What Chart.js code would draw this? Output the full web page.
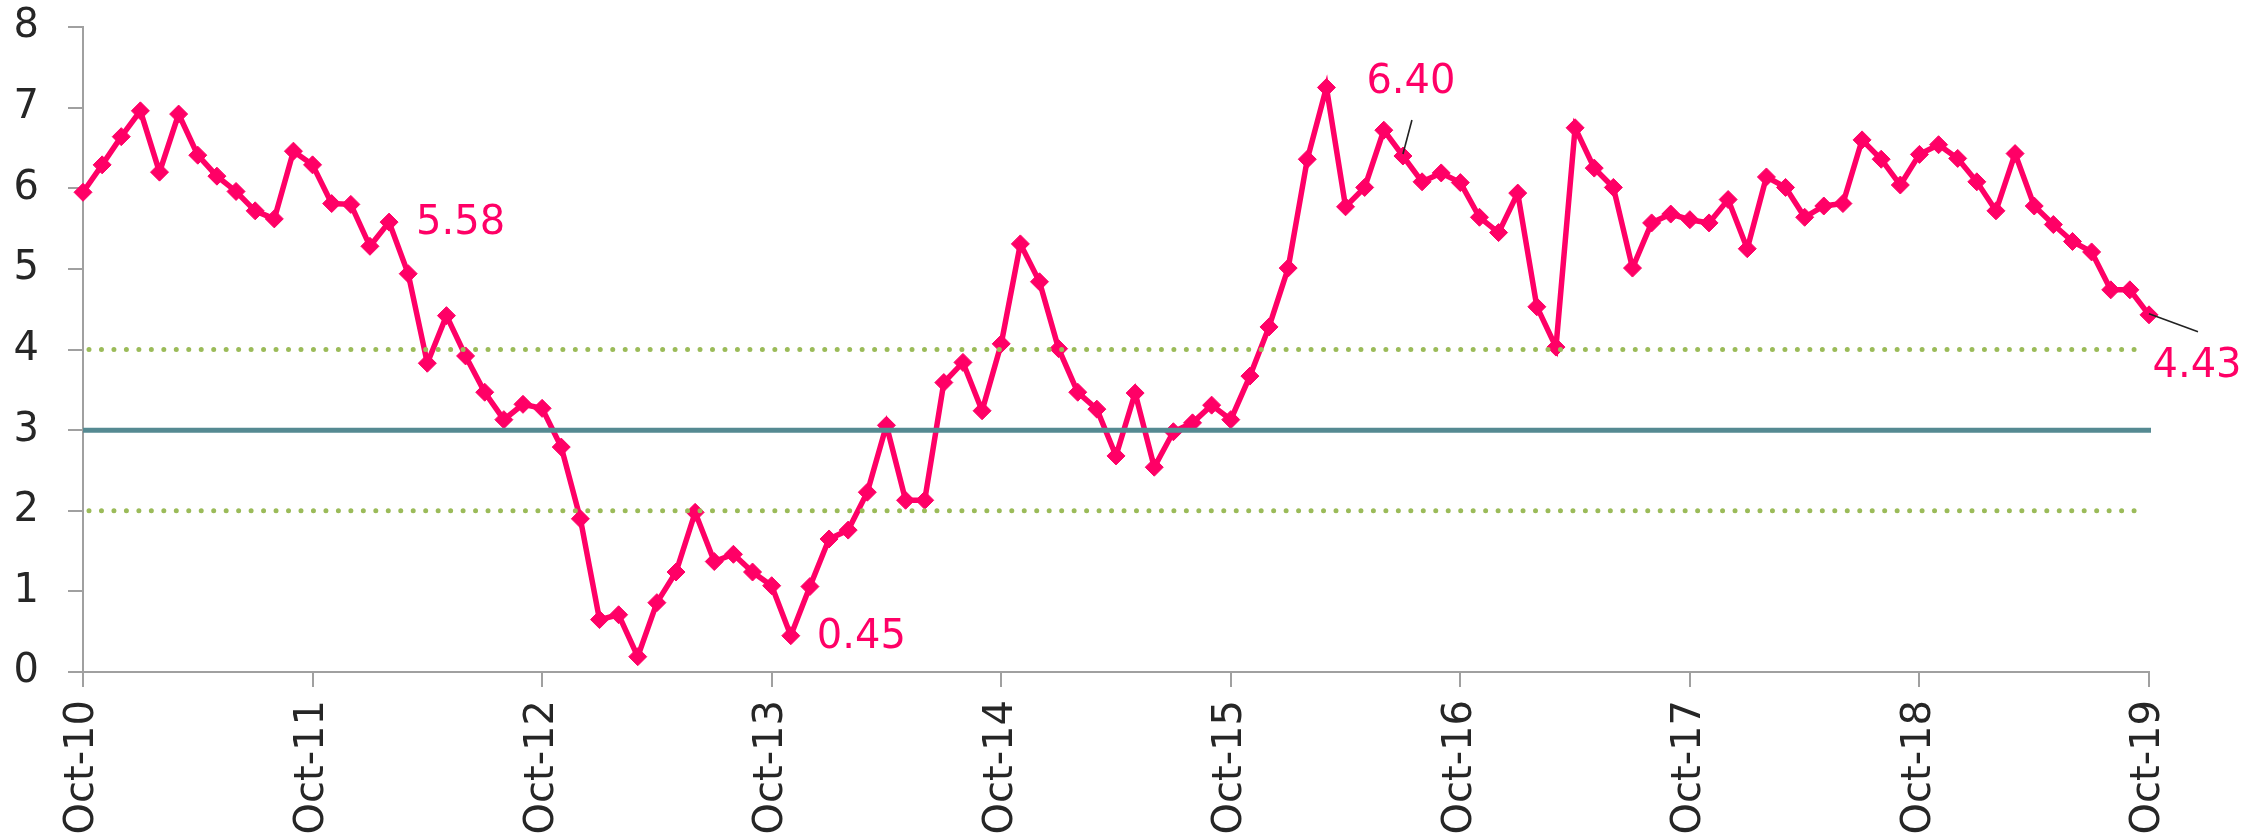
<!DOCTYPE html>
<html>
<head>
<meta charset="utf-8">
<script src="https://cdn.jsdelivr.net/npm/chart.js@4.4.0/dist/chart.umd.min.js"></script>
<style>
  html, body { margin: 0; padding: 0; background: #fff; }
  #wrap { width: 2266px; height: 835px; }
</style>
</head>
<body>
<div id="wrap"><canvas id="rate-chart"></canvas></div>
<script>
    "use strict";

    // Monthly categories, Oct-10 .. Oct-19
    var monthNames = ["Jan", "Feb", "Mar", "Apr", "May", "Jun", "Jul", "Aug", "Sep", "Oct", "Nov", "Dec"];
    var months = [];
    for (var m = 9; m <= 9 + 108; m++) {
        months.push(monthNames[m % 12] + "-" + (10 + Math.floor(m / 12)));
    }

    // Series values
    var rate = [
        5.95, 6.29, 6.64, 6.96, 6.20, 6.92, 6.41, 6.15, 5.96, 5.72, 5.62, 6.46,
        6.29, 5.81, 5.80, 5.28, 5.58, 4.94, 3.83, 4.42, 3.92, 3.47, 3.13, 3.32,
        3.27, 2.79, 1.90, 0.65, 0.71, 0.19, 0.86, 1.24, 1.98, 1.37, 1.46, 1.24,
        1.07, 0.45, 1.06, 1.65, 1.76, 2.23, 3.06, 2.13, 2.13, 3.59, 3.84, 3.24,
        4.07, 5.31, 4.84, 4.01, 3.47, 3.26, 2.68, 3.46, 2.54, 2.98, 3.09, 3.31,
        3.13, 3.67, 4.28, 5.01, 6.36, 7.25, 5.77, 6.01, 6.72, 6.40, 6.08, 6.19,
        6.07, 5.64, 5.45, 5.94, 4.53, 4.03, 6.75, 6.25, 6.01, 5.01, 5.57, 5.68,
        5.61, 5.57, 5.86, 5.25, 6.14, 6.01, 5.64, 5.78, 5.81, 6.60, 6.36, 6.04,
        6.42, 6.54, 6.37, 6.08, 5.72, 6.43, 5.78, 5.55, 5.34, 5.21, 4.74, 4.74,
        4.43
    ];

    // Target and tolerance band
    var targetLevel = [3];
    var bandLevels = [2, 4];

    // Points that carry a value label
    var calloutMonths = ["Feb-12", "Nov-13", "Jul-16", "Oct-19"];

    var pink = "#FF0066";
    var axisGray = "#A0A0A0";
    var fontFamily = "'DejaVu Sans', sans-serif";

    // label placement relative to the point (pixels)
    var calloutPlace = {
        "Feb-12": { dx: 27, dy: 1, align: "left" },
        "Nov-13": { dx: 26, dy: 2, align: "left" },
        "Jul-16": { dx: 8, dy: -73, align: "center", lead: [0, -2, 9, -36] },
        "Oct-19": { dx: 48, dy: 52, align: "center", lead: [0, -1, 49, 17] }
    };

    // Reference lines, drawn over the series like the original
    var refLines = {
        id: "refLines",
        afterDatasetsDraw: function (chart) {
            var ctx = chart.ctx, area = chart.chartArea, y = chart.scales.y;
            ctx.save();
            ctx.lineCap = "round";
            ctx.strokeStyle = "#9BBB59";
            ctx.lineWidth = 5;
            ctx.setLineDash([0, 12.47]);
            bandLevels.forEach(function (v) {
                var py = y.getPixelForValue(v);
                ctx.beginPath();
                ctx.moveTo(area.left + 6, py);
                ctx.lineTo(area.right - 4, py);
                ctx.stroke();
            });
            ctx.setLineDash([]);
            ctx.lineCap = "butt";
            ctx.strokeStyle = "#558A92";
            ctx.lineWidth = 5;
            targetLevel.forEach(function (v) {
                var py = y.getPixelForValue(v);
                ctx.beginPath();
                ctx.moveTo(area.left, py);
                ctx.lineTo(area.right + 2, py);
                ctx.stroke();
            });
            ctx.restore();
        }
    };

    var callouts = {
        id: "callouts",
        afterDraw: function (chart) {
            var ctx = chart.ctx;
            var meta = chart.getDatasetMeta(0);
            ctx.save();
            ctx.font = "40px " + fontFamily;
            ctx.textBaseline = "middle";
            calloutMonths.forEach(function (label) {
                var i = months.indexOf(label);
                var pt = meta.data[i];
                var p = calloutPlace[label];
                if (p.lead) {
                    ctx.strokeStyle = "#222";
                    ctx.lineWidth = 1.6;
                    ctx.beginPath();
                    ctx.moveTo(pt.x + p.lead[0], pt.y + p.lead[1]);
                    ctx.lineTo(pt.x + p.lead[2], pt.y + p.lead[3]);
                    ctx.stroke();
                }
                ctx.fillStyle = pink;
                ctx.textAlign = p.align;
                ctx.fillText(rate[i].toFixed(2), pt.x + p.dx, pt.y + p.dy);
            });
            ctx.restore();
        }
    };

    var ctx1 = document.getElementById("rate-chart").getContext("2d");
    var rateChart = new Chart(ctx1, {
        type: "line",
        data: {
            labels: months,
            datasets: [{
                data: rate,
                borderColor: pink,
                backgroundColor: pink,
                borderWidth: 5.5,
                tension: 0,
                pointStyle: "rectRot",
                pointRadius: 9,
                pointBorderWidth: 1,
                pointBackgroundColor: pink,
                pointBorderColor: pink,
                clip: false
            }]
        },
        options: {
            responsive: true,
            maintainAspectRatio: false,
            animation: false,
            layout: { padding: { left: 0, right: 117, top: 27, bottom: 0 } },
            plugins: {
                legend: { display: false },
                tooltip: { enabled: false }
            },
            scales: {
                x: {
                    type: "category",
                    offset: false,
                    border: { color: axisGray, width: 2 },
                    grid: { drawOnChartArea: false, tickLength: 15, color: axisGray, lineWidth: 2 },
                    afterBuildTicks: function (scale) {
                        scale.ticks = scale.ticks.filter(function (t) {
                            return months[t.value].indexOf("Oct") === 0;
                        });
                    },
                    afterFit: function (scale) {
                        scale.height = 163;
                        scale.paddingLeft = 0;
                        scale.paddingRight = 0;
                    },
                    ticks: {
                        autoSkip: false,
                        minRotation: 90,
                        maxRotation: 90,
                        padding: 13,
                        color: "#262626",
                        font: { family: fontFamily, size: 40 }
                    }
                },
                y: {
                    min: 0,
                    max: 8,
                    border: { color: axisGray, width: 2 },
                    grid: { drawOnChartArea: false, tickLength: 15, color: axisGray, lineWidth: 2 },
                    afterFit: function (scale) {
                        scale.width = 83;
                        scale.paddingTop = 0;
                        scale.paddingBottom = 0;
                    },
                    ticks: {
                        stepSize: 1,
                        padding: 29,
                        color: "#262626",
                        font: { family: fontFamily, size: 40 }
                    }
                }
            }
        },
        plugins: [refLines, callouts]
    });
</script>
</body>
</html>
